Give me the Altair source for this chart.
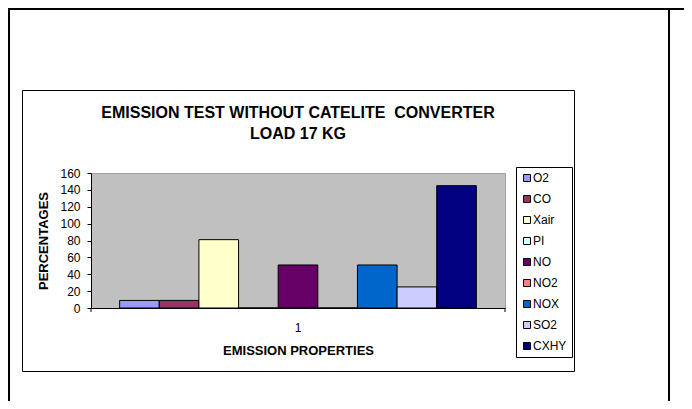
import altair as alt
import pandas as pd

# ---- data ----
categories = ["1"]
series = ["O2", "CO", "Xair", "PI", "NO", "NO2", "NOX", "SO2", "CXHY"]
values = [9, 9, 81, 0, 51, 0, 51, 25, 145]
colors = ["#9999FF", "#993366", "#FFFFCC", "#CCFFFF", "#660066",
          "#FF8080", "#0066CC", "#CCCCFF", "#000080"]
y_ticks = [0, 20, 40, 60, 80, 100, 120, 140, 160]
title_lines = ["EMISSION TEST WITHOUT CATELITE\u00a0 CONVERTER", "LOAD 17 KG"]
x_title = "EMISSION PROPERTIES"
y_title = "PERCENTAGES"

FONT = "Liberation Sans"
W, H = 414, 135

df = pd.DataFrame({
    "category": categories * len(series),
    "series": series,
    "value": values,
})
one = pd.DataFrame({"k": [0]})

bars = alt.Chart(df).mark_bar(stroke="black", strokeWidth=1).encode(
    x=alt.X(
        "category:N", title=x_title,
        scale=alt.Scale(paddingInner=0, paddingOuter=0.0803),
        axis=alt.Axis(labelAngle=0, ticks=False, labelPadding=14,
                      labelFont=FONT, labelFontSize=12, labelColor="black",
                      domainColor="black", titleFont=FONT, titleFontSize=13,
                      titleFontWeight="bold", titleColor="black", titlePadding=11),
    ),
    xOffset=alt.XOffset("series:N", sort=series,
                        scale=alt.Scale(paddingInner=0, paddingOuter=0)),
    y=alt.Y(
        "value:Q", title=y_title,
        scale=alt.Scale(domain=[0, 160], nice=False),
        axis=alt.Axis(values=y_ticks, grid=False, tickSize=4, tickColor="black",
                      domainColor="black", labelPadding=7, labelFont=FONT,
                      labelFontSize=12, labelColor="black", titleFont=FONT,
                      titleFontSize=13, titleFontWeight="bold", titleColor="black",
                      titlePadding=9),
    ),
    color=alt.Color(
        "series:N", sort=series,
        scale=alt.Scale(domain=series, range=colors),
        legend=alt.Legend(
            title=None, orient="none", legendX=425, legendY=-6,
            symbolType="square", symbolSize=49, symbolStrokeColor="black",
            symbolStrokeWidth=1, labelFont=FONT, labelFontSize=12,
            labelColor="black", padding=5, rowPadding=9, labelOffset=0,
            strokeColor="black", fillColor="white", direction="vertical",
        ),
    ),
)

# decorative frame (page border lines and chart box)
frame_top = alt.Chart(one).mark_rule(color="black", strokeWidth=2).encode(
    x=alt.value(-83), x2=alt.value(593), y=alt.value(-164))
frame_left = alt.Chart(one).mark_rule(color="black", strokeWidth=2).encode(
    x=alt.value(-82), y=alt.value(-164), y2=alt.value(228))
frame_right = alt.Chart(one).mark_rule(color="black", strokeWidth=2).encode(
    x=alt.value(578), y=alt.value(-164), y2=alt.value(228))
chart_box = alt.Chart(one).mark_rect(fillOpacity=0, stroke="black", strokeWidth=1).encode(
    x=alt.value(-68.5), x2=alt.value(483.5), y=alt.value(-82.5), y2=alt.value(198.5))
edge_tick_r = alt.Chart(one).mark_rule(color="black", strokeWidth=1).encode(
    x=alt.value(W), y=alt.value(H), y2=alt.value(H + 4))
edge_tick_l = alt.Chart(one).mark_rule(color="black", strokeWidth=1).encode(
    x=alt.value(0), y=alt.value(H), y2=alt.value(H + 4))

chart = alt.layer(chart_box, frame_top, frame_left, frame_right, bars,
                  edge_tick_l, edge_tick_r).properties(
    width=W, height=H,
    autosize=alt.AutoSizeParams(type="none"),
    padding={"left": 83, "top": 165, "right": 179, "bottom": 93},
    background="white",
    title=alt.Title(text=title_lines, font=FONT, fontSize=16, fontWeight="bold",
                    color="black", anchor="middle", frame="group", offset=-149.5,
                    baseline="bottom", lineHeight=21),
).configure_view(fill="#C0C0C0", stroke="#A0A0A0", strokeWidth=1)

chart.save("out.html", embed_options={"renderer": "svg", "actions": False})
